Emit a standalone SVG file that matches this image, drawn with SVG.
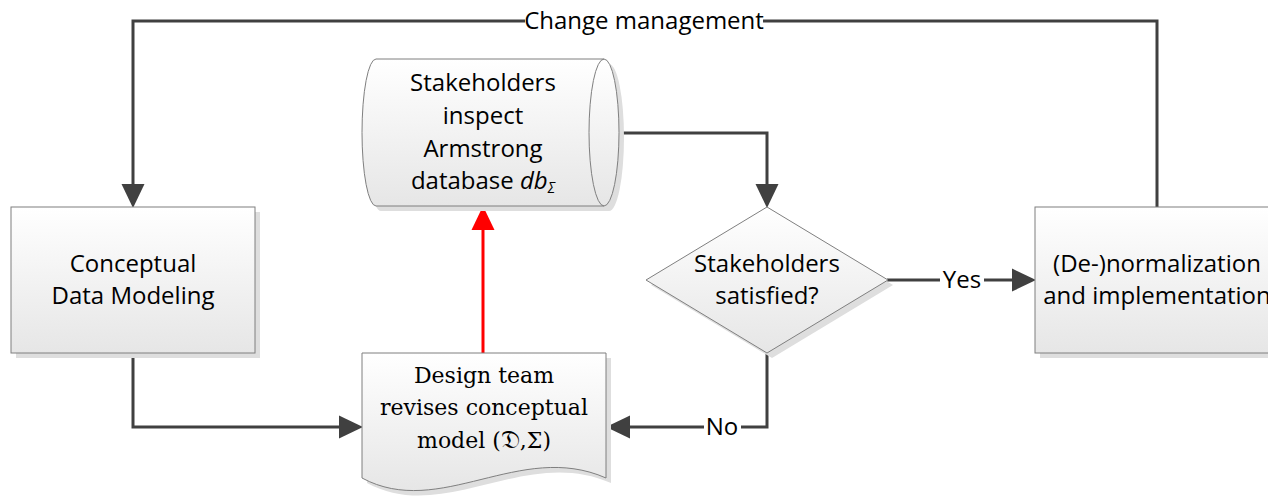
<svg xmlns="http://www.w3.org/2000/svg" width="1268" height="499" viewBox="0 0 1268 499">
  <style>
    .shape { stroke: #7f7f7f; stroke-width: 1; fill: url(#fillGrad); }
    .shadow { fill: #dedede; stroke: none; }
    .label { font-family: "Open Sans", "Liberation Sans", sans-serif; font-size: 24px; fill: #000; text-anchor: middle; }
    .serif { font-family: "DejaVu Serif", "Liberation Serif", serif; font-size: 22px; fill: #000; text-anchor: middle; }
    .conn { fill: none; stroke: #404040; stroke-width: 3; }
    .hot { fill: none; stroke: #ff0000; stroke-width: 3; }
    .gap { fill: #ffffff; stroke: none; }
  </style>
  <defs>
    <linearGradient id="fillGrad" x1="0" y1="0" x2="0" y2="1">
      <stop offset="0" stop-color="#ffffff"/>
      <stop offset="1" stop-color="#e6e6e6"/>
    </linearGradient>
    <marker id="arrow" markerUnits="userSpaceOnUse" markerWidth="24" markerHeight="24" refX="0" refY="11.5" orient="auto" viewBox="0 0 24 23">
      <path d="M0,0 L24,11.5 L0,23 Z" fill="#404040"/>
    </marker>
    <marker id="arrowRed" markerUnits="userSpaceOnUse" markerWidth="24" markerHeight="24" refX="0" refY="11.5" orient="auto" viewBox="0 0 24 23">
      <path d="M0,0 L24,11.5 L0,23 Z" fill="#ff0000"/>
    </marker>
  </defs>

  <rect width="1268" height="499" fill="#ffffff"/>

  <!-- connectors -->
  <g id="connectors">
    <!-- change management loop -->
    <path class="conn" d="M1157,207 V21 H133 V184" marker-end="url(#arrow)"/>
    <rect class="gap" x="525" y="8" width="238" height="28"/>
    <text class="label" x="644" y="29">Change management</text>

    <!-- cylinder to decision -->
    <path class="conn" d="M605,133 H767 V184" marker-end="url(#arrow)"/>

    <!-- decision: yes -->
    <path class="conn" d="M887,280 H1012" marker-end="url(#arrow)"/>
    <rect class="gap" x="940" y="266" width="44" height="28"/>
    <text class="label" x="962" y="288">Yes</text>

    <!-- decision: no -->
    <path class="conn" d="M767,352 V427 H630" marker-end="url(#arrow)"/>
    <rect class="gap" x="704" y="413" width="37" height="28"/>
    <text class="label" x="722" y="435">No</text>

    <!-- modeling to design team -->
    <path class="conn" d="M133,353 V427 H339" marker-end="url(#arrow)"/>

    <!-- design team to stakeholder inspection -->
    <path class="hot" d="M483,353 V230" marker-end="url(#arrowRed)"/>
  </g>

  <!-- Conceptual Data Modeling -->
  <g id="node-modeling">
    <rect class="shadow" x="16" y="212" width="244" height="146"/>
    <rect class="shape" x="11" y="207" width="244" height="146"/>
    <text class="label" x="133" y="272">Conceptual</text>
    <text class="label" x="133" y="304">Data Modeling</text>
  </g>

  <!-- Stakeholders inspect Armstrong database -->
  <g id="node-inspect">
    <path class="shadow" d="M381,64 H609 A15,73.5 0 0 1 609,211 H381 A14,73.5 0 0 1 381,64 Z"/>
    <path class="shape" d="M376,59 H604 A15,73.5 0 0 1 604,206 H376 A14,73.5 0 0 1 376,59 Z"/>
    <path fill="none" stroke="#7f7f7f" stroke-width="1" d="M604,59 A15,73.5 0 0 0 604,206"/>
    <text class="label" x="483" y="91">Stakeholders</text>
    <text class="label" x="483" y="124">inspect</text>
    <text class="label" x="483" y="157">Armstrong</text>
    <text class="label" x="483" y="189">database <tspan font-style="italic">db</tspan><tspan font-style="italic" font-size="14px" dy="4">Σ</tspan></text>
  </g>

  <!-- Stakeholders satisfied? -->
  <g id="node-decision">
    <polygon class="shadow" points="772,212 893,285 772,358 651,285"/>
    <polygon class="shape" points="767,207 888,280 767,353 646,280"/>
    <text class="label" x="767" y="272">Stakeholders</text>
    <text class="label" x="767" y="304">satisfied?</text>
  </g>

  <!-- Design team revises conceptual model -->
  <g id="node-design">
    <path class="shadow" d="M367,358 H611 V483 C525,445 445,525 367,483 Z"/>
    <path class="shape" d="M362,353 H606 V478 C520,440 440,520 362,478 Z"/>
    <text class="serif" x="484" y="383">Design team</text>
    <text class="serif" x="484" y="415">revises conceptual</text>
    <text class="serif" x="484" y="448">model (<tspan font-size="26px">𝔇</tspan>,Σ)</text>
  </g>

  <!-- (De-)normalization and implementation -->
  <g id="node-implementation">
    <rect class="shadow" x="1040" y="212" width="244" height="146"/>
    <rect class="shape" x="1035" y="207" width="244" height="146"/>
    <text class="label" x="1157" y="272">(De-)normalization</text>
    <text class="label" x="1157" y="304">and implementation</text>
  </g>
</svg>
